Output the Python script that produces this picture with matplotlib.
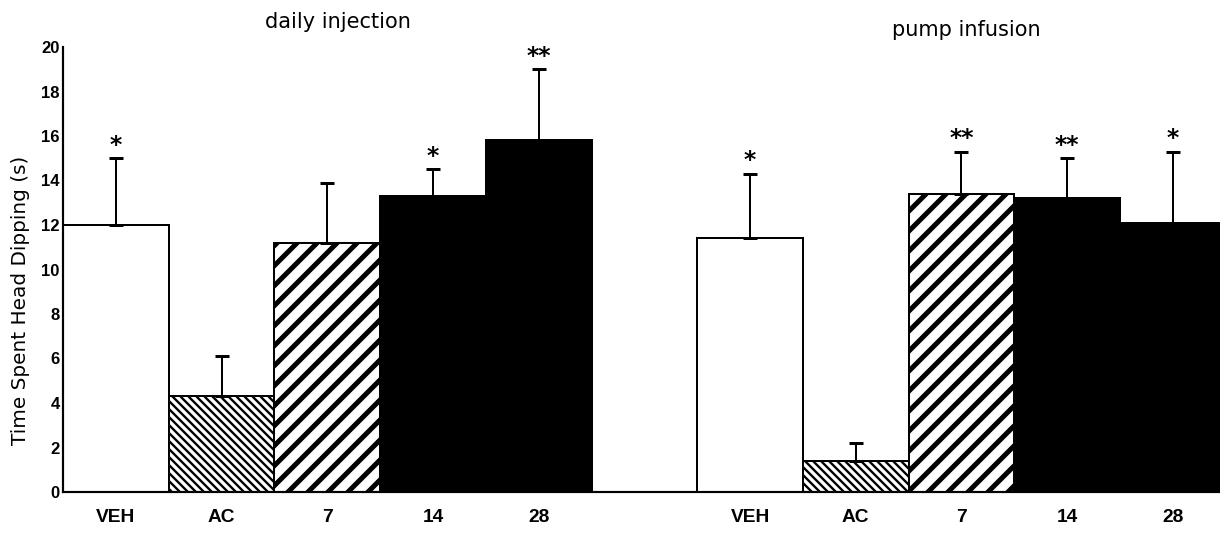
import matplotlib.pyplot as plt
import numpy as np

DPI = 120

labels = ["VEH", "AC", "7", "14", "28"]
group_titles = ["daily injection", "pump infusion"]

daily_mean = [12.0, 4.3, 11.2, 13.3, 15.8]
daily_sem = [3.0, 1.8, 2.7, 1.2, 3.2]
daily_stars = ["*", "", "", "*", "**"]

pump_mean = [11.4, 1.4, 13.4, 13.2, 12.1]
pump_sem = [2.9, 0.8, 1.9, 1.8, 3.2]
pump_stars = ["*", "", "**", "**", "*"]

yticks = list(range(0, 21, 2))

# bar styling, same order as labels
fills = ["white", "white", "white", "black", "black"]
hatches = ["", "\\" * 5, "//", "", ""]
hatch_widths = [1.0, 1.4, 3.0, 1.0, 1.0]

fig = plt.figure(figsize=(1220 / DPI, 540 / DPI), dpi=DPI)
ax = fig.add_axes([63 / 1220, 48 / 540, 1157 / 1220, 445 / 540])

tick_font = "Liberation Sans"
text_font = "DejaVu Sans"

groups = [
    (np.arange(5) + 0.5, daily_mean, daily_sem, daily_stars),
    (np.arange(5) + 6.5, pump_mean, pump_sem, pump_stars),
]

for xs, means, sems, stars in groups:
    for x, m, fc, h, hw in zip(xs, means, fills, hatches, hatch_widths):
        with plt.rc_context({"hatch.linewidth": hw}):
            bars = ax.bar(x, m, width=1.0, color=fc, edgecolor="black",
                          linewidth=1.2, hatch=h, zorder=2)
        for b in bars:
            if hasattr(b, "set_hatch_linewidth"):
                b.set_hatch_linewidth(hw)
    ax.errorbar(xs, means, yerr=[np.zeros(len(means)), sems], fmt="none",
                ecolor="black", elinewidth=1.2, capsize=4.2, capthick=1.8,
                zorder=3)
    for x, m, s, st in zip(xs, means, sems, stars):
        if st:
            ax.text(x, m + s + 0.3, st, ha="center", va="baseline",
                    fontsize=14, fontweight="bold", family=text_font)

ax.set_xlim(0, 1157 / 105.7)
ax.set_ylim(0, 20)
ax.set_yticks(yticks)
ax.set_yticklabels([str(t) for t in yticks], family=tick_font,
                   fontweight="bold", fontsize=10)
all_x = np.concatenate([g[0] for g in groups])
ax.set_xticks(all_x)
ax.set_xticklabels(labels * 2, family=tick_font, fontweight="bold",
                   fontsize=11.5)
ax.tick_params(axis="y", length=0, pad=2)
ax.tick_params(axis="x", length=0, pad=10.5)

for side in ["top", "right"]:
    ax.spines[side].set_visible(False)
ax.spines["left"].set_linewidth(1.3)
ax.spines["bottom"].set_linewidth(1.3)

ax.set_ylabel("Time Spent Head Dipping (s)", family=text_font, fontsize=12,
              va="center")
ax.yaxis.set_label_coords(-0.037, 0.43)

fig.text(338 / 1220, 1 - 22 / 540, group_titles[0], ha="center",
         va="center", family=text_font, fontsize=12.5)
fig.text(966 / 1220, 1 - 30 / 540, group_titles[1], ha="center",
         va="center", family=text_font, fontsize=12.5)

fig.savefig("out.png", dpi=DPI)
